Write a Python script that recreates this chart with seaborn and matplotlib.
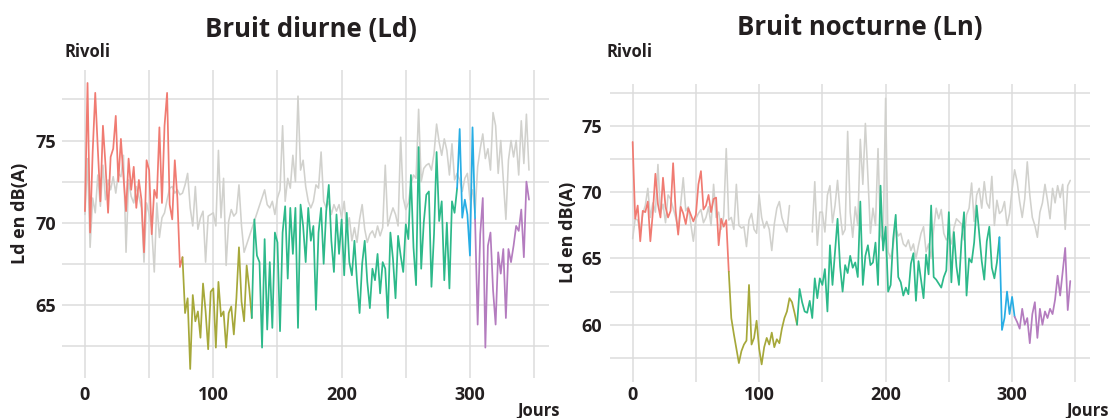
import numpy as np
import pandas as pd
import seaborn as sns
import matplotlib.pyplot as plt
from matplotlib import font_manager

# Bruit a Rivoli : niveaux journaliers (tous les 2 jours), annee en cours (couleur) et annee de reference (gris)

jours = list(range(0, 347, 2))

ld_annee = [70.7, 78.5, 69.4, 74.3, 77.9, 74.5, 71.3, 75.9, 73.5, 70.6,
            74.0, 74.5, 76.5, 72.5, 75.1, 72.8, 70.7, 73.9, 72.0, 73.4,
            70.9, 72.6, 71.4, 68.2, 73.8, 73.2, 69.3, 72.0, 71.5, 75.8,
            71.2, 75.9, 77.9, 71.1, 70.2, 73.8, 71.5, 67.3, 67.9, 64.5,
            65.4, 61.1, 65.6, 64.0, 64.6, 63.0, 66.3, 64.6, 62.3, 65.8,
            66.0, 62.4, 66.4, 64.3, 64.6, 62.4, 64.5, 64.9, 63.2, 65.4,
            68.5, 65.2, 64.0, 67.4, 66.0, 64.2, 70.2, 68.0, 67.6, 62.4,
            69.0, 63.5, 67.6, 63.6, 69.4, 68.8, 63.4, 69.4, 71.0, 66.6,
            70.9, 68.1, 70.9, 63.6, 71.1, 69.8, 67.6, 70.9, 68.9, 69.8,
            64.7, 69.4, 70.9, 67.5, 70.7, 72.3, 68.9, 67.0, 70.5, 68.1,
            70.2, 66.8, 70.6, 67.6, 66.8, 68.9, 66.4, 64.5, 67.5, 68.9,
            66.4, 64.8, 67.2, 66.5, 68.1, 65.7, 67.6, 67.2, 64.2, 69.4,
            67.8, 65.4, 69.2, 68.0, 67.0, 69.9, 69.0, 72.9, 68.5, 66.2,
            74.6, 67.2, 70.0, 71.7, 71.9, 66.1, 69.3, 74.3, 70.1, 71.3,
            66.5, 70.0, 66.0, 71.3, 70.6, 72.1, 75.7, 70.3, 71.4, 70.5,
            68.0, 75.8, 70.2, 63.8, 69.3, 71.5, 62.4, 68.6, 69.4, 65.9,
            63.8, 68.2, 66.9, 68.4, 64.2, 68.4, 67.6, 68.6, 69.8, 69.5,
            70.8, 67.9, 72.5, 71.4]

ld_reference = [70.5, 73.9, 68.5, 71.5, 70.6, 72.9, 71.0, 73.5, 71.4, 72.6,
                72.0, 72.8, 71.8, 73.0, 72.8, 74.1, 68.2, 72.6, 71.6, 71.2,
                72.2, 71.6, 70.9, 67.6, 71.2, 70.5, 69.7, 67.0, 71.2, 69.1,
                70.3, 70.6, 71.4, 72.1, 72.2, 71.8, 72.0, 71.7, 71.8, 72.3,
                73.0, 70.9, 69.8, 72.2, 69.6, 70.3, 70.7, 67.6, 70.4, 70.5,
                70.6, 69.8, 74.4, 70.3, 72.7, 67.4, 70.1, 70.8, 70.4, 70.6,
                72.3, 69.8, 68.2, np.nan, np.nan, np.nan, np.nan, np.nan, np.nan, np.nan,
                72.0, 71.1, 70.9, 71.3, 70.5, 71.5, 72.0, 75.9, 71.3, 72.7,
                72.1, 74.1, 72.5, 77.7, 73.2, 73.8, 72.2, 71.3, 70.9, 71.3,
                72.3, 72.1, 74.3, 71.3, 70.9, 71.3, 70.5, 71.1, 70.7, 71.1,
                70.3, 71.3, 69.5, 70.3, 68.9, 69.7, 68.8, 70.2, 71.1, 69.6,
                68.8, 69.3, 69.5, 69.1, 69.8, 69.2, 69.7, 73.5, 69.8, 70.4,
                70.9, 70.5, 69.8, 75.2, 71.5, 70.8, 71.2, 72.3, 72.9, 72.7,
                76.9, 72.5, 73.3, 73.5, 73.6, 73.2, 74.2, 76.0, 74.9, 74.1,
                75.1, 74.4, 72.9, 74.8, 72.6, 73.0, 72.6, 71.9, 72.7, 73.0,
                71.4, 72.0, 70.6, 73.4, 74.5, 75.4, 73.9, 74.5, 73.2, 76.7,
                75.9, 73.0, 75.0, 72.6, 70.2, 73.8, 75.0, 74.0, 75.0, 72.9,
                76.2, 73.6, 76.6, 73.2]

ln_annee = [73.8, 68.0, 69.0, 66.3, 68.6, 68.5, 69.3, 66.3, 68.5, 71.4,
            69.1, 68.1, 71.1, 68.9, 68.1, 68.6, 72.2, 68.6, 66.8, 68.9,
            68.4, 67.6, 68.8, 68.3, 67.8, 68.3, 70.6, 71.6, 68.7, 69.0,
            69.8, 68.5, 69.5, 69.6, 66.0, 68.0, 67.4, 67.9, 64.0, 60.5,
            59.3, 58.2, 57.1, 58.0, 58.5, 58.8, 63.0, 58.5, 59.0, 60.3,
            58.2, 57.0, 58.3, 59.0, 58.5, 59.4, 58.3, 58.9, 58.6, 59.7,
            60.5, 61.0, 62.0, 61.7, 60.9, 60.0, 62.7, 61.7, 61.0, 60.9,
            61.8, 60.5, 63.5, 62.0, 63.5, 63.0, 64.2, 61.0, 66.0, 63.0,
            65.5, 68.0, 64.4, 62.5, 64.5, 63.9, 65.2, 64.3, 64.7, 63.6,
            69.3, 63.0, 65.2, 66.0, 64.5, 64.7, 66.2, 63.0, 70.5, 65.6,
            67.4, 62.5, 63.0, 66.5, 68.3, 63.6, 63.2, 62.2, 62.8, 62.3,
            64.6, 65.4, 61.8, 64.8, 63.4, 62.0, 65.3, 63.8, 69.0, 63.6,
            63.4, 63.1, 62.8, 63.6, 64.1, 68.5, 63.2, 67.0, 64.4, 63.0,
            66.3, 68.5, 62.2, 65.0, 64.7, 66.2, 69.0, 66.9, 64.8, 63.4,
            66.3, 67.4, 64.3, 63.5, 64.7, 66.6, 59.6, 60.5, 62.5, 60.8,
            62.1, 60.6, 60.2, 59.7, 61.2, 60.0, 60.5, 58.6, 60.8, 61.7,
            59.0, 61.2, 60.0, 61.0, 60.5, 61.2, 60.8, 61.9, 63.7, 62.2,
            64.0, 65.8, 61.1, 63.3]

ln_reference = [66.5, 68.0, 67.9, 67.0, 68.4, 69.0, 70.3, 68.1, 69.2, 68.5,
                72.1, 68.4, 69.1, 67.7, 69.8, 69.5, 68.8, 68.1, 67.2, 69.1,
                71.1, 68.6, 68.9, 67.6, 66.3, 68.0, 68.4, 68.7, 67.7, 68.1,
                68.9, 67.5, 70.6, 68.1, 68.5, 67.2, 68.2, 73.3, 67.9, 68.1,
                67.2, 70.6, 67.5, 67.3, 67.4, 65.9, 67.9, 68.4, 67.2, 66.9,
                69.8, 68.1, 67.3, 67.8, 67.2, 65.6, 67.6, 68.8, 69.3, 68.1,
                67.5, 67.0, 69.0, np.nan, np.nan, np.nan, np.nan, np.nan, np.nan, np.nan,
                np.nan, 67.0, 70.8, 66.0, 68.5, 68.5, 67.0, 69.8, 70.5, 67.7,
                69.0, 70.9, 68.5, 66.8, 67.2, 74.6, 68.5, 66.6, 68.9, 67.5,
                74.0, 70.6, 75.2, 71.2, 66.9, 68.8, 67.5, 73.3, 66.8, 66.2,
                77.1, 65.5, 65.0, 66.0, 67.3, 66.7, 66.9, 66.1, 65.9, 66.4,
                65.6, 66.1, 65.0, 66.0, 66.9, 67.4, 65.5, 66.1, 65.0, 67.2,
                68.8, 68.0, 68.7, 66.9, 66.4, 66.6, 66.1, 67.3, 68.0, 67.8,
                67.6, 66.4, 68.3, 68.8, 70.7, 67.8, 69.8, 70.3, 68.8, 70.8,
                69.2, 68.8, 71.2, 67.5, 69.4, 68.4, 68.6, 69.3, 67.5, 68.4,
                70.2, 71.7, 70.8, 69.3, 68.1, 69.5, 72.3, 69.8, 68.1, 67.5,
                66.6, 68.5, 69.2, 70.6, 69.4, 68.0, 70.3, 69.2, 70.5, 69.6,
                70.6, 67.2, 70.5, 70.9]

# periodes et jours de changement de periode
periodes = ['p1', 'p2', 'p3', 'p4', 'p5']
bornes_ld = [0, 76, 130, 290, 304, 346]
bornes_ln = [0, 76, 130, 290, 302, 346]

couleurs = dict(zip(periodes, ['#F07B72', '#A6A83A', '#2DB98A', '#27ADE4', '#B47CBF']))
gris = '#D1D1CD'
encre = '#231F20'

sns.set_style('white')
noms = {f.name for f in font_manager.fontManager.ttflist}
police = next(p for p in ['Liberation Sans Narrow', 'Open Sans', 'Noto Sans', 'DejaVu Sans'] if p in noms)
plt.rcParams['font.family'] = [police, 'DejaVu Sans']

W, H = 1109, 418
fig = plt.figure(figsize=(W / 100, H / 100), dpi=100)


def boite(x0, y0, x1, y1):
    return [x0 / W, 1 - y1 / H, (x1 - x0) / W, (y1 - y0) / H]


def panneau(rect, annee, reference, bornes, ylim, relier, pad_x, pad_y):
    ax = fig.add_axes(rect)
    df_ref = pd.DataFrame({'jour': jours, 'niveau': reference})
    if relier:
        df_ref['troncon'] = 0
    else:
        df_ref['troncon'] = df_ref['niveau'].isna().cumsum()
    sns.lineplot(data=df_ref, x='jour', y='niveau', units='troncon', estimator=None,
                 color=gris, lw=1.15, ax=ax)

    df = pd.DataFrame({'jour': jours, 'niveau': annee})
    morceaux = []
    for nom, debut, fin in zip(periodes, bornes[:-1], bornes[1:]):
        morceaux.append(df[(df.jour >= debut) & (df.jour <= fin)].assign(periode=nom))
    sns.lineplot(data=pd.concat(morceaux), x='jour', y='niveau', hue='periode',
                 palette=couleurs, estimator=None, legend=False, lw=1.25, ax=ax)

    ax.set_xlim(-17.9, 361.6)
    ax.set_ylim(*ylim)
    ax.set_xticks([0, 100, 200, 300])
    ax.set_xticks([50, 150, 250, 350], minor=True)
    yt = [v for v in [60, 65, 70, 75] if ylim[0] < v < ylim[1]]
    ax.set_yticks(yt)
    ax.set_yticks([v for v in [57.5, 62.5, 67.5, 72.5, 77.5] if ylim[0] < v < ylim[1]], minor=True)
    ax.grid(which='both', color='#DCDCDC', lw=1.1)
    ax.set_axisbelow(True)
    sns.despine(ax=ax, left=True, bottom=True)
    ax.tick_params(which='both', length=0, labelsize=13, colors=encre)
    ax.tick_params(axis='x', pad=pad_x)
    ax.tick_params(axis='y', pad=pad_y)
    for t in ax.get_xticklabels() + ax.get_yticklabels():
        t.set_fontweight('bold')
    ax.set_xlabel('')
    ax.set_ylabel('')
    return ax


panneau(boite(62, 70, 549, 378), ld_annee, ld_reference, bornes_ld, (60.55, 79.29), True, 6, 4)
panneau(boite(610, 84, 1090, 382), ln_annee, ln_reference, bornes_ln, (55.67, 78.18), False, 3, 6)


def texte(x, y, s, **kw):
    fig.text(x / W, 1 - y / H, s, color=encre, fontweight='bold', **kw)


texte(311, 30, 'Bruit diurne (Ld)', fontsize=18.5, ha='center', va='center')
texte(860, 27, 'Bruit nocturne (Ln)', fontsize=18.5, ha='center', va='center')
texte(65, 52, 'Rivoli', fontsize=12, ha='left', va='center')
texte(607, 52, 'Rivoli', fontsize=12, ha='left', va='center')
texte(20, 213, 'Ld en dB(A)', fontsize=13, ha='center', va='center', rotation=90)
texte(568, 232, 'Ld en dB(A)', fontsize=13, ha='center', va='center', rotation=90)
texte(560, 411, 'Jours', fontsize=12, ha='right', va='center')
texte(1109, 411, 'Jours', fontsize=12, ha='right', va='center')

fig.savefig('out.png', dpi=100)
